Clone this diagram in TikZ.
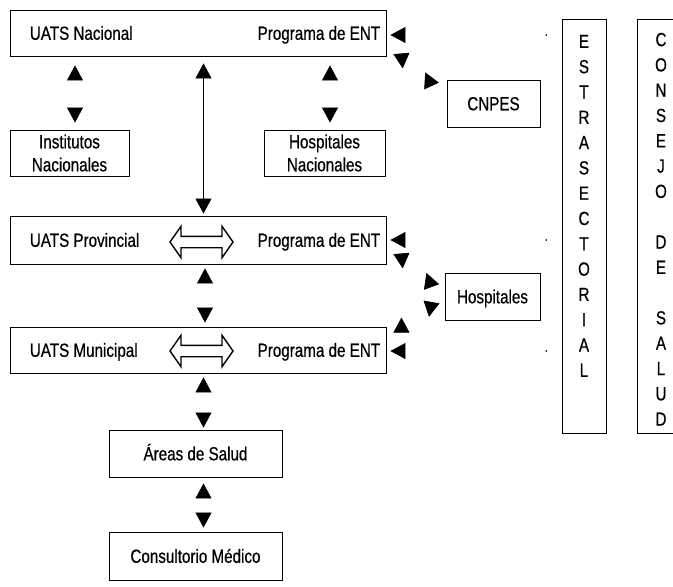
\documentclass[tikz,border=0pt]{standalone}
\usepackage{fontspec}
\setmainfont{Liberation Sans}[FakeStretch=0.8,FakeBold=0.6]
\usetikzlibrary{arrows.meta,shapes.arrows,calc,positioning}

\begin{document}
\begin{tikzpicture}[x=1pt,y=-1pt,>={Triangle[length=15pt,width=16pt,color=black]},semithick,font=\fontsize{19}{23}\selectfont]
  \tikzstyle{box}=[draw, rectangle, line width=0.9pt, inner sep=0pt]
  \tikzstyle{one}=[text height=13.6pt, text depth=0pt]
  \tikzstyle{lbl}=[inner sep=0pt, text height=13.6pt, text depth=0pt]
  \tikzstyle{gap}=[draw=white, <->]
  \tikzstyle{side}=[draw=white, {Circle[length=1.6pt,color=black]}->]
  \tikzstyle{back}=[draw=white, {Triangle[reversed,length=15pt,width=16pt,color=black]}-{Triangle[reversed,length=15pt,width=16pt,color=black]}]
  \tikzstyle{hollow}=[draw, double arrow, line width=1.4pt, minimum height=63pt, minimum width=30pt, double arrow head extend=10pt, double arrow tip angle=110, inner sep=5pt]
  \tikzstyle{vtext}=[inner sep=0pt, align=center, font=\fontsize{19}{25.3}\selectfont]

  \useasboundingbox (0,0) rectangle (673,587);

  % levels
  \node[box, minimum width=376pt, minimum height=46pt] (nac) at (198,33) {};
  \node[lbl] (nacL) [right=20pt of nac.west] {UATS Nacional};
  \node[lbl] (nacR) [left=6pt of nac.east] {Programa de ENT};

  \node[box, minimum width=376pt, minimum height=48pt] (prov) at (198,240) {};
  \node[lbl] (provL) [right=20pt of prov.west] {UATS Provincial};
  \node[lbl] (provR) [left=6pt of prov.east] {Programa de ENT};
  \node[hollow] (provA) at (201.5,242) {};

  \node[box, minimum width=376pt, minimum height=46pt] (mun) at (198,350) {};
  \node[lbl] (munL) [right=20pt of mun.west] {UATS Municipal};
  \node[lbl] (munR) [left=6pt of mun.east] {Programa de ENT};
  \node[hollow] (munA) at (201.5,351) {};

  \node[box, align=center, minimum width=119pt, minimum height=46pt] (inst) at (69.5,153) {Institutos\\Nacionales};
  \node[box, align=center, minimum width=121pt, minimum height=46pt] (hnac) at (324.5,153) {Hospitales\\Nacionales};

  \node[box, one, minimum width=173pt, minimum height=47pt] (areas) at (195.5,453.5) {Áreas de Salud};
  \node[box, one, minimum width=173pt, minimum height=48pt] (cons) at (195.5,556) {Consultorio Médico};

  \node[box, one, minimum width=93pt, minimum height=47pt] (cnpes) at (493.5,103.5) {CNPES};
  \node[box, one, minimum width=95pt, minimum height=47pt] (hosp) at (492.5,296.5) {Hospitales};

  % vertical bars
  \node[box, minimum width=44pt, minimum height=414pt] (estra) at (584,226) {};
  \node[vtext] (estraT) [below=16pt of estra.north] {E\\S\\T\\R\\A\\S\\E\\C\\T\\O\\R\\I\\A\\L};
  \node[box, minimum width=48pt, minimum height=414pt] (csj) at (661,226) {};
  \node[vtext] (csjT) [below=14pt of csj.north] {C\\O\\N\\S\\E\\J\\O\\~\\D\\E\\~\\S\\A\\L\\U\\D};

  \coordinate (e1) at (547,35);
  \coordinate (e2) at (547,240);
  \coordinate (e3) at (547,351);

  \path
    ($(inst.north)+(5.5,0)$) edge[gap, shorten <=7pt, shorten >=9pt] ($(inst.north|-nac.south)+(5.5,0)$)
    ($(hnac.north)+(5.5,0)$) edge[gap, shorten <=7pt, shorten >=9pt] ($(hnac.north|-nac.south)+(5.5,0)$)
    ($(nac.south)+(5.5,0)$) edge[<->, shorten <=7pt, shorten >=2pt] ($(prov.north)+(5.5,0)$)
    ($(prov.south)+(7,0)$) edge[gap, shorten <=4pt, shorten >=4pt] ($(mun.north)+(7,0)$)
    ($(mun.south)+(5.5,0)$) edge[gap, shorten <=4pt, shorten >=2pt] ($(areas.north-|mun.south)+(5.5,0)$)
    ($(areas.south-|mun.south)+(5.5,0)$) edge[gap, shorten <=6pt, shorten >=4pt] ($(cons.north-|mun.south)+(5.5,0)$)
    (e1) edge[side, shorten >=4pt] (e1-|nac.east)
    (e2) edge[side, shorten >=4pt] (e2-|prov.east)
    (e3) edge[side, shorten >=4pt] (e3-|mun.east)
    ($(nac.south east)+(15,-3)$) edge[back, out=-85, in=115] ($(cnpes.west)+(-15,-17.5)$)
    ($(prov.south east)+(15,-11)$) edge[back, out=-85, in=110] ($(hosp.west)+(-13,-9.5)$)
    ($(hosp.west)+(-13,5.5)$) edge[back, out=-100, in=90] ($(mun.north east)+(15,6)$);
\end{tikzpicture}
\end{document}
